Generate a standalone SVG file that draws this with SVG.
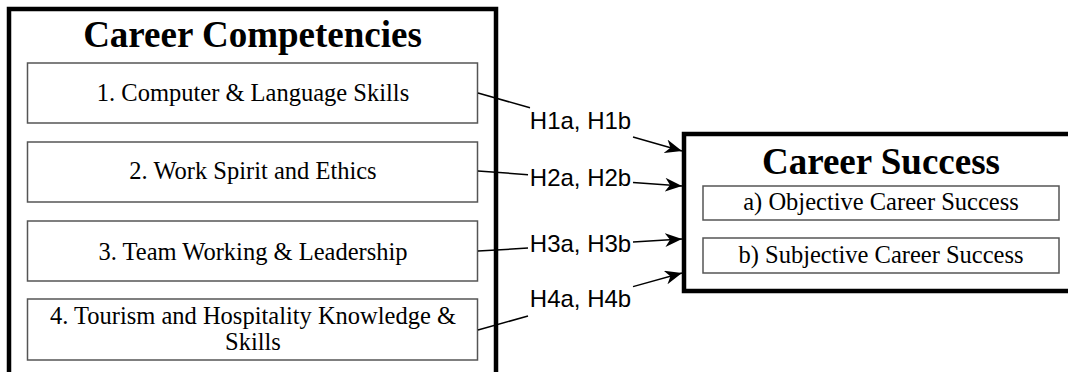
<svg xmlns="http://www.w3.org/2000/svg" width="1068" height="372" viewBox="0 0 1068 372">
<defs>
<style>
.outer{fill:#fff;stroke:#000;stroke-width:4.5}
.inner{fill:#fff;stroke:#555;stroke-width:1.5}
.title{font-family:"Liberation Serif","Times New Roman",serif;font-weight:bold;font-size:37px;fill:#000;text-anchor:middle}
.item{font-family:"Liberation Serif","Times New Roman",serif;font-size:24.5px;fill:#000;text-anchor:middle}
.lbl{font-family:"Liberation Sans",Arial,sans-serif;font-size:24px;fill:#000;text-anchor:middle}
.conn{fill:none;stroke:#000;stroke-width:1.5}
</style>
<marker id="arr" markerUnits="userSpaceOnUse" markerWidth="18" markerHeight="14" viewBox="0 0 18 14" refX="17" refY="7" orient="auto">
<path d="M0,0 L17,7 L0,14 L5,7 Z" fill="#000"/>
</marker>
</defs>
<g id="career-competencies">
<rect class="outer" x="9" y="9" width="487" height="380"/>
<text class="title" x="252.5" y="47">Career Competencies</text>
</g>
<g id="c1">
<rect class="inner" x="27.5" y="63" width="450" height="60"/>
<text class="item" x="253" y="101">1. Computer &amp; Language Skills</text>
</g>
<g id="c2">
<rect class="inner" x="27.5" y="142" width="450" height="60"/>
<text class="item" x="253" y="179">2. Work Spirit and Ethics</text>
</g>
<g id="c3">
<rect class="inner" x="27.5" y="221" width="450" height="60"/>
<text class="item" x="253" y="260">3. Team Working &amp; Leadership</text>
</g>
<g id="c4">
<rect class="inner" x="27.5" y="299" width="450" height="61"/>
<text class="item" x="253" y="324">4. Tourism and Hospitality Knowledge &amp;</text>
<text class="item" x="253" y="350">Skills</text>
</g>
<g id="career-success">
<rect class="outer" x="684" y="134" width="400" height="157"/>
<text class="title" x="881" y="174">Career Success</text>
</g>
<g id="sa">
<rect class="inner" x="703" y="186" width="356" height="34"/>
<text class="item" x="881" y="210">a) Objective Career Success</text>
</g>
<g id="sb">
<rect class="inner" x="703" y="238" width="356" height="35"/>
<text class="item" x="881" y="263">b) Subjective Career Success</text>
</g>
<g id="connectors">
<line class="conn" x1="478" y1="93" x2="530" y2="107.8"/>
<line class="conn" x1="633" y1="137" x2="682" y2="151" marker-end="url(#arr)"/>
<text class="lbl" x="580.5" y="129">H1a, H1b</text>
<line class="conn" x1="478" y1="171" x2="528" y2="174.7"/>
<line class="conn" x1="633" y1="182.4" x2="682" y2="186" marker-end="url(#arr)"/>
<text class="lbl" x="580.5" y="186">H2a, H2b</text>
<line class="conn" x1="478" y1="251" x2="528" y2="248.1"/>
<line class="conn" x1="633" y1="241.9" x2="682" y2="239" marker-end="url(#arr)"/>
<text class="lbl" x="580.5" y="252">H3a, H3b</text>
<line class="conn" x1="478" y1="330" x2="528" y2="316"/>
<line class="conn" x1="633" y1="286.6" x2="682" y2="273" marker-end="url(#arr)"/>
<text class="lbl" x="580.5" y="307">H4a, H4b</text>
</g>
</svg>
